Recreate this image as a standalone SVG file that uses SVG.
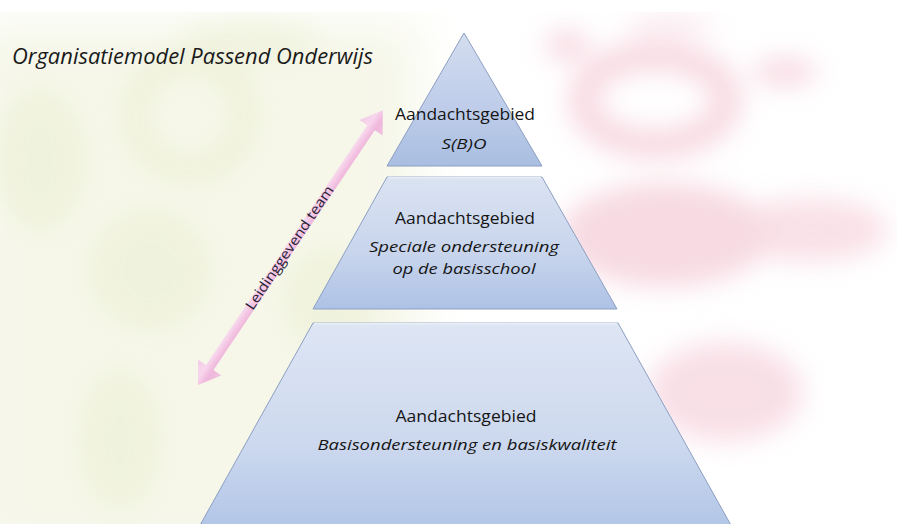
<svg xmlns="http://www.w3.org/2000/svg" width="897" height="524" viewBox="0 0 897 524">
<defs>
<style>
.lbl{font-family:"Open Sans","Liberation Sans",sans-serif;font-size:16px;fill:#151515;text-anchor:middle}
.it{font-style:italic;font-size:15px}
.tier{stroke:#8c9fc2;stroke-width:1}
.hl{fill:none;stroke:#ffffff;stroke-opacity:0.7;stroke-width:1.5}
.pk{fill:#f1bccb}
.gr{fill:#e2e8c2}
</style>
<filter id="blur" x="-50%" y="-50%" width="200%" height="200%"><feGaussianBlur stdDeviation="13"/></filter>
<filter id="blur2" x="-50%" y="-50%" width="200%" height="200%"><feGaussianBlur stdDeviation="25"/></filter>
<linearGradient id="gTop" x1="0" y1="0" x2="0" y2="1">
<stop offset="0" stop-color="#d3ddef"/><stop offset="0.55" stop-color="#bfcdea"/><stop offset="1" stop-color="#a9bee1"/>
</linearGradient>
<linearGradient id="gMid" x1="0" y1="0" x2="0" y2="1">
<stop offset="0" stop-color="#dbe3f2"/><stop offset="0.6" stop-color="#c7d4ec"/><stop offset="1" stop-color="#adc2e5"/>
</linearGradient>
<linearGradient id="gBot" x1="0" y1="0" x2="0" y2="1">
<stop offset="0" stop-color="#dee6f4"/><stop offset="0.6" stop-color="#ccd8ee"/><stop offset="1" stop-color="#b2c6e7"/>
</linearGradient>
<linearGradient id="gArrow" gradientUnits="userSpaceOnUse" x1="0" y1="-14" x2="0" y2="14">
<stop offset="0" stop-color="#f3c6e6"/><stop offset="0.38" stop-color="#f7d3ed"/><stop offset="0.5" stop-color="#f4c2e4"/><stop offset="0.65" stop-color="#eeb0da"/><stop offset="1" stop-color="#f0bce0"/>
</linearGradient>
</defs>

<g id="background">
<rect x="0" y="0" width="897" height="524" fill="#ffffff"/>
<rect x="-30" y="20" width="450" height="540" fill="#f6f7e9" filter="url(#blur2)"/>
<g filter="url(#blur)" opacity="0.3">
<ellipse cx="190" cy="115" rx="55" ry="55" fill="none" stroke="#dde4b6" stroke-width="22"/>
<ellipse class="gr" cx="250" cy="40" rx="70" ry="22"/>
<ellipse class="gr" cx="40" cy="160" rx="45" ry="70"/>
<ellipse class="gr" cx="150" cy="270" rx="60" ry="60"/>
<ellipse class="gr" cx="330" cy="300" rx="45" ry="50"/>
<ellipse class="gr" cx="120" cy="440" rx="40" ry="70"/>
</g>
<g filter="url(#blur)" opacity="0.55">
<ellipse class="pk" cx="567" cy="45" rx="22" ry="15"/>
<ellipse cx="655" cy="100" rx="72" ry="44" fill="none" stroke="#f1bccb" stroke-width="30"/>
<ellipse class="pk" cx="785" cy="72" rx="32" ry="14"/>
<ellipse class="pk" cx="670" cy="25" rx="45" ry="10" fill-opacity="0.6"/>
<ellipse class="pk" cx="665" cy="235" rx="105" ry="52"/>
<ellipse class="pk" cx="810" cy="230" rx="78" ry="32" fill-opacity="0.8"/>
<ellipse class="pk" cx="725" cy="392" rx="78" ry="50" fill-opacity="0.85"/>
</g>
<rect x="0" y="0" width="897" height="12" fill="#ffffff"/>
</g>

<g id="tier-top">
<polygon class="tier" points="464,33 542,166 387,166" fill="url(#gTop)"/>
<text class="lbl" x="465" y="120" textLength="140" lengthAdjust="spacingAndGlyphs">Aandachtsgebied</text>
<text class="lbl it" x="464" y="149" textLength="45" lengthAdjust="spacingAndGlyphs">S(B)O</text>
</g>

<g id="tier-middle">
<polygon class="tier" points="387,177 542,177 617,309 313,309" fill="url(#gMid)"/>
<line class="hl" x1="388" y1="177.5" x2="541" y2="177.5"/>
<text class="lbl" x="465" y="224" textLength="140" lengthAdjust="spacingAndGlyphs">Aandachtsgebied</text>
<text class="lbl it" x="464" y="252" textLength="190" lengthAdjust="spacingAndGlyphs">Speciale ondersteuning</text>
<text class="lbl it" x="464" y="274" textLength="143" lengthAdjust="spacingAndGlyphs">op de basisschool</text>
</g>

<g id="tier-bottom">
<polygon class="tier" points="313,323 618,323 732,527 199,527" fill="url(#gBot)"/>
<line class="hl" x1="314" y1="323.5" x2="617" y2="323.5"/>
<text class="lbl" x="466" y="422" textLength="141" lengthAdjust="spacingAndGlyphs">Aandachtsgebied</text>
<text class="lbl it" x="467" y="450" textLength="299" lengthAdjust="spacingAndGlyphs">Basisondersteuning en basiskwaliteit</text>
</g>

<g id="title">
<text x="12" y="64" font-family="'Open Sans','Liberation Sans',sans-serif" font-size="22" font-style="italic" fill="#1a1a1a" textLength="361" lengthAdjust="spacingAndGlyphs">Organisatiemodel Passend Onderwijs</text>
</g>

<g id="connectors">
<g id="arrow-leidinggevend" transform="translate(198,385) rotate(-56.07)">
<polygon points="0,0 21,-14 21,-4.5 310,-4.5 310,-14 331,0 310,14 310,4.5 21,4.5 21,14" fill="url(#gArrow)" opacity="0.9"/>
<text x="165" y="4" font-family="'Open Sans','Liberation Sans',sans-serif" font-size="14" fill="#262233" text-anchor="middle" textLength="146" lengthAdjust="spacingAndGlyphs">Leidinggevend team</text>
</g>
</g>
</svg>
